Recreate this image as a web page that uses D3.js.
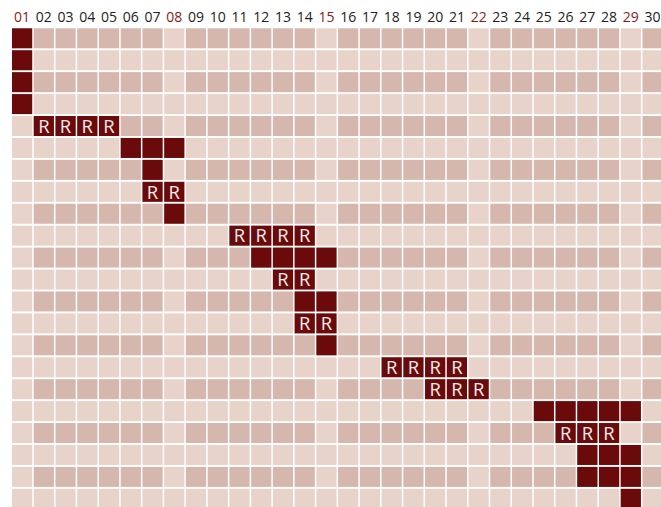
<!DOCTYPE html>
<html><head><meta charset="utf-8">
<script src="https://cdn.jsdelivr.net/npm/d3@7"></script>
<style>body{margin:0;background:#fff;overflow:hidden}</style>
</head><body>
<svg id="c" width="661" height="507"></svg>
<script>
const days = ["01","02","03","04","05","06","07","08","09","10","11","12","13","14","15","16","17","18","19","20","21","22","23","24","25","26","27","28","29","30"];
const holidays = ["01","08","15","22","29"];
const rowCount = 22;
// filled cells: [row, day, label]
const filled = [
  [0,"01",""],[1,"01",""],[2,"01",""],[3,"01",""],
  [4,"02","R"],[4,"03","R"],[4,"04","R"],[4,"05","R"],
  [5,"06",""],[5,"07",""],[5,"08",""],
  [6,"07",""],
  [7,"07","R"],[7,"08","R"],
  [8,"08",""],
  [9,"11","R"],[9,"12","R"],[9,"13","R"],[9,"14","R"],
  [10,"12",""],[10,"13",""],[10,"14",""],[10,"15",""],
  [11,"13","R"],[11,"14","R"],
  [12,"14",""],[12,"15",""],
  [13,"14","R"],[13,"15","R"],
  [14,"15",""],
  [15,"18","R"],[15,"19","R"],[15,"20","R"],[15,"21","R"],
  [16,"20","R"],[16,"21","R"],[16,"22","R"],
  [17,"25",""],[17,"26",""],[17,"27",""],[17,"28",""],[17,"29",""],
  [18,"26","R"],[18,"27","R"],[18,"28","R"],
  [19,"27",""],[19,"28",""],[19,"29",""],
  [20,"27",""],[20,"28",""],[20,"29",""],
  [21,"29",""]
];

const svg = d3.select("#c");
const step = 21.74, cell = 20.2;
const x = d3.scaleBand().domain(days).range([12, 12 + step*30]).paddingInner(1 - cell/step).paddingOuter(0);
x.range([12, 12 + step*30 - (step - cell)]);
const rows = d3.range(rowCount);
const rstep = 21.93;
const y = d3.scaleBand().domain(rows).range([28.3, 28.3 + rstep*rowCount - (rstep-20)]).paddingInner(1 - 20/rstep).paddingOuter(0);

const grid = [];
rows.forEach(r => days.forEach(d => grid.push({r, d})));
svg.append("g").selectAll("rect").data(grid).join("rect")
  .attr("x", d => x(d.d)).attr("y", d => y(d.r))
  .attr("width", x.bandwidth()).attr("height", y.bandwidth())
  .attr("fill", d => holidays.includes(d.d) ? "#e8d3ca" : (d.r % 2 === 0 ? "#d5b7ad" : "#e8d3ca"));

svg.append("g").selectAll("rect").data(filled).join("rect")
  .attr("x", d => x(d[1])).attr("y", d => y(d[0]))
  .attr("width", x.bandwidth()).attr("height", y.bandwidth())
  .attr("fill", "#6b0a0a");

svg.append("g").selectAll("text").data(filled.filter(d => d[2])).join("text")
  .attr("x", d => x(d[1]) + x.bandwidth()/2).attr("y", d => y(d[0]) + y.bandwidth()/2 + 6.8)
  .attr("text-anchor", "middle").attr("font-family", "Open Sans, sans-serif")
  .attr("font-size", 18.5).attr("fill", "#f2ecec").text(d => d[2]);

svg.append("g").selectAll("text").data(days).join("text")
  .attr("x", d => x(d) + x.bandwidth()/2).attr("y", 22)
  .attr("text-anchor", "middle").attr("font-family", "Open Sans, sans-serif")
  .attr("font-size", 14).attr("fill", d => holidays.includes(d) ? "#8b1a1a" : "#222").text(d => d);
</script>
</body></html>
